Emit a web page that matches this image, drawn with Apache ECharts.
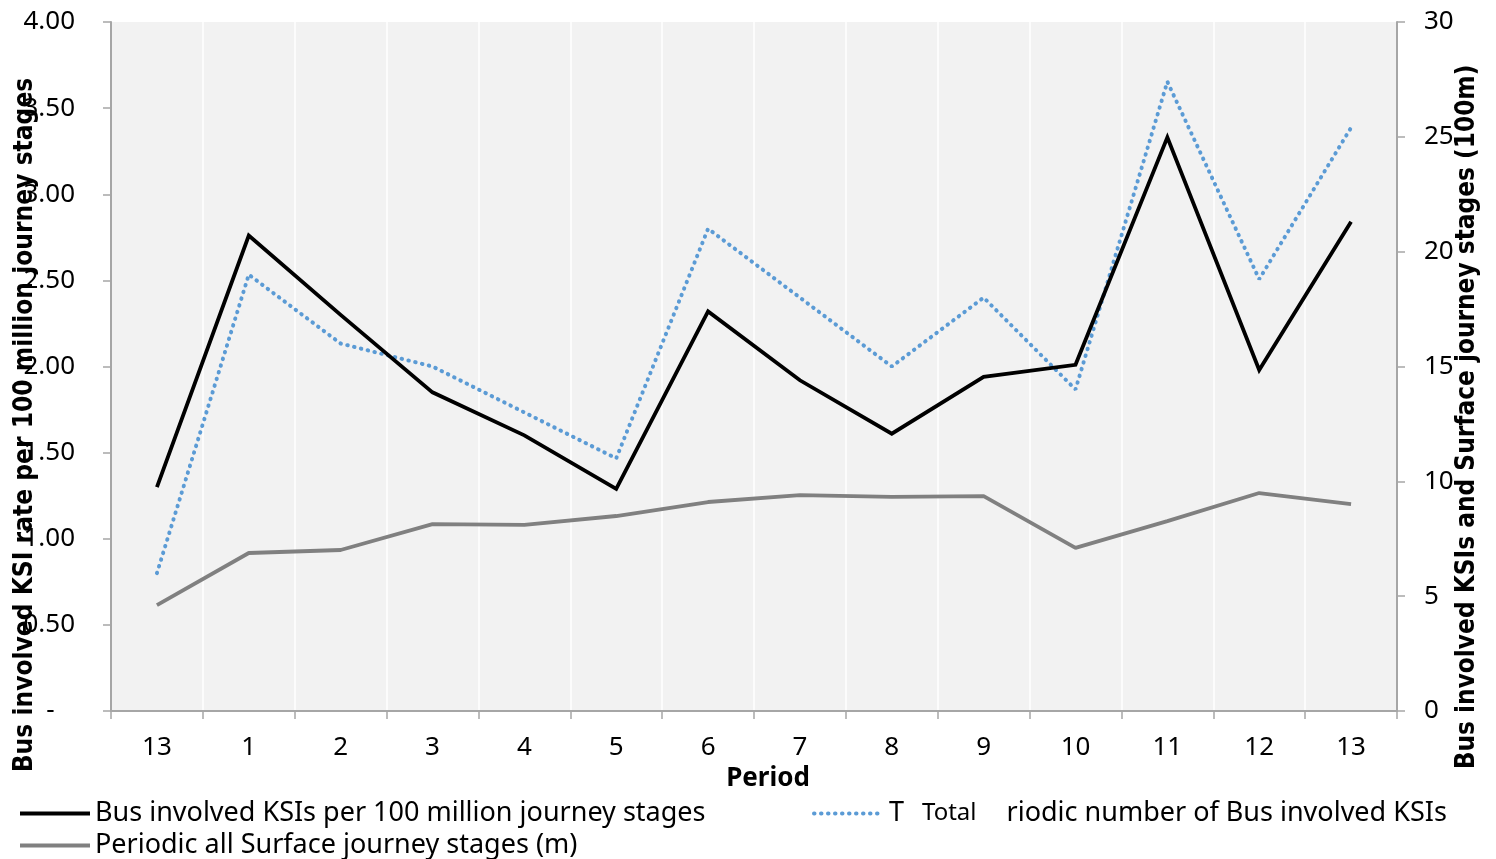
<!DOCTYPE html>
<html>
<head>
<meta charset="utf-8">
<script src="https://cdn.jsdelivr.net/npm/echarts@6/dist/echarts.min.js"></script>
<style>
  html, body { margin: 0; padding: 0; background: #ffffff; }
  #chart { width: 1496px; height: 859px; }
</style>
</head>
<body>
<div id="chart"></div>
<script>
// Accounting periods (financial-year periods 13, 1..13)
const periods = ['13', '1', '2', '3', '4', '5', '6', '7', '8', '9', '10', '11', '12', '13'];

// Bus involved KSIs per 100 million journey stages (left axis)
const ksiRate = [1.30, 2.76, 2.30, 1.85, 1.60, 1.29, 2.32, 1.92, 1.61, 1.94, 2.01, 3.33, 1.98, 2.84];

// Total periodic number of Bus involved KSIs (right axis)
const ksiTotal = [6.0, 19.0, 16.0, 15.0, 13.0, 11.0, 21.0, 18.0, 15.0, 18.0, 14.0, 27.4, 18.8, 25.4];

// Periodic all Surface journey stages, in 100m (right axis)
const journeyStages = [4.61, 6.88, 7.01, 8.14, 8.10, 8.49, 9.10, 9.40, 9.32, 9.36, 7.10, 8.27, 9.49, 9.01];

const nameRate = 'Bus involved KSIs per 100 million journey stages';
const nameTotal = 'Total periodic number of Bus involved KSIs';
const nameStages = 'Periodic all Surface journey stages (m)';

const leftTitle = 'Bus involved KSI rate per 100 million journey stages';
const rightTitle = 'Bus involved KSIs and Surface journey stages (100m)';
const xTitle = 'Period';

const textFont = "'Noto Sans', 'Open Sans', sans-serif";
const titleFont = "'DejaVu Sans Condensed', 'Noto Sans', sans-serif";
const axisGrey = '#a6a6a6';

const chart = echarts.init(document.getElementById('chart'), null, { renderer: 'canvas' });

const legendText = { fontFamily: textFont, fontSize: 27, color: '#000000' };
const legendCommon = {
  itemWidth: 70, itemHeight: 14, itemGap: 0,
  itemStyle: { opacity: 0 },
  lineStyle: { width: 4 },
  textStyle: legendText
};

chart.setOption({
  animation: false,
  backgroundColor: '#ffffff',
  grid: {
    left: 111, right: 99, top: 22, bottom: 148,
    show: true, backgroundColor: '#f2f2f2', borderWidth: 0
  },
  legend: [
    Object.assign({ data: [nameRate], left: 13, top: 795 }, legendCommon),
    Object.assign({ data: [nameStages], left: 13, top: 827 }, legendCommon),
    Object.assign({ data: [nameTotal], left: 807, top: 795 }, legendCommon, {
      formatter: function () {
        return '{a|T}{b|Total}{a|riodic number of Bus involved KSIs}';
      },
      textStyle: {
        fontFamily: textFont, fontSize: 27, color: '#000000',
        rich: {
          a: { fontFamily: textFont, fontSize: 27, color: '#000000' },
          b: { fontFamily: textFont, fontSize: 24, color: '#000000', padding: [0, 30, 0, 18] }
        }
      }
    })
  ],
  xAxis: {
    type: 'category',
    data: periods,
    boundaryGap: true,
    axisLine: { lineStyle: { color: axisGrey, width: 2 } },
    axisTick: { show: true, interval: 0, length: 8, lineStyle: { color: axisGrey, width: 1.5 } },
    axisLabel: { interval: 0, margin: 24, fontFamily: textFont, fontSize: 26, color: '#000000' },
    splitLine: { show: true, interval: 0, lineStyle: { color: '#ffffff', width: 1.5 } }
  },
  yAxis: [
    {
      type: 'value', min: 0, max: 4, interval: 0.5, position: 'left',
      axisLine: { show: true, lineStyle: { color: axisGrey, width: 2 } },
      axisTick: { show: true, length: 8, lineStyle: { color: axisGrey, width: 1.5 } },
      axisLabel: {
        margin: 36, fontFamily: textFont, fontSize: 26, color: '#000000',
        formatter: function (v) { return v === 0 ? '-   ' : v.toFixed(2); }
      },
      splitLine: { show: false }
    },
    {
      type: 'value', min: 0, max: 30, interval: 5, position: 'right',
      axisLine: { show: true, lineStyle: { color: axisGrey, width: 2 } },
      axisTick: { show: true, length: 8, lineStyle: { color: axisGrey, width: 1.5 } },
      axisLabel: { margin: 27, fontFamily: textFont, fontSize: 26, color: '#000000' },
      splitLine: { show: false }
    }
  ],
  series: [
    {
      name: nameRate, type: 'line', yAxisIndex: 0, data: ksiRate,
      symbol: 'none', z: 4,
      lineStyle: { color: '#000000', width: 3.8, join: 'miter' },
      itemStyle: { color: '#000000' }
    },
    {
      name: nameTotal, type: 'line', yAxisIndex: 1, data: ksiTotal,
      symbol: 'none', z: 3,
      lineStyle: { color: '#5b9bd5', width: 4, type: [0.5, 6.5], cap: 'round' },
      itemStyle: { color: '#5b9bd5' }
    },
    {
      name: nameStages, type: 'line', yAxisIndex: 1, data: journeyStages,
      symbol: 'none', z: 2,
      lineStyle: { color: '#808080', width: 3.8 },
      itemStyle: { color: '#808080' }
    }
  ],
  graphic: [
    {
      type: 'text', x: 25, y: 425, rotation: Math.PI / 2, scaleX: 0.965, z: 100,
      style: {
        text: leftTitle, fontFamily: titleFont, fontWeight: 'bold', fontSize: 27,
        fill: '#000000', align: 'center', verticalAlign: 'middle'
      }
    },
    {
      type: 'text', x: 1467, y: 417, rotation: Math.PI / 2, scaleX: 0.96, z: 100,
      style: {
        text: rightTitle, fontFamily: titleFont, fontWeight: 'bold', fontSize: 27,
        fill: '#000000', align: 'center', verticalAlign: 'middle'
      }
    },
    {
      type: 'text', x: 768, y: 779, z: 100,
      style: {
        text: xTitle, fontFamily: textFont, fontWeight: 'bold', fontSize: 26,
        fill: '#000000', align: 'center', verticalAlign: 'middle'
      }
    }
  ]
});
</script>
</body>
</html>
